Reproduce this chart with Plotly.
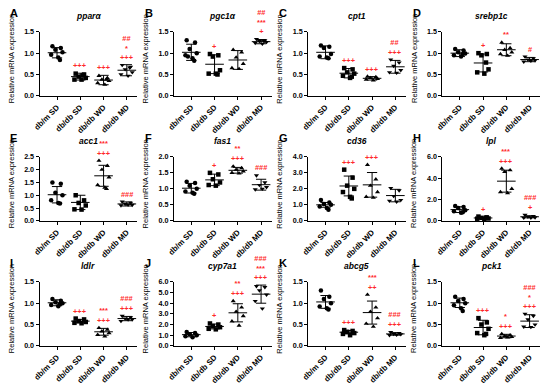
import plotly.graph_objects as go

W, H = 546, 387
FONT = "Arial, Liberation Sans, sans-serif"
RED = "#ff2a2a"

groups = ["db/m SD", "db/db SD", "db/db WD", "db/db MD"]
genes = ["pparα", "pgc1α", "cpt1", "srebp1c", "acc1", "fas1",
         "cd36", "lpl", "ldlr", "cyp7a1", "abcg5", "pck1"]
letters = ["A", "B", "C", "D", "E", "F", "G", "H", "I", "J", "K", "L"]
ymax = [1.5, 1.5, 1.5, 1.5, 2.5, 2.0, 4.0, 6.0, 1.5, 6.0, 1.5, 1.5]
ydtick = [0.5, 0.5, 0.5, 0.5, 0.5, 0.5, 1.0, 2.0, 0.5, 1.0, 0.5, 0.5]

# ---- data ----
ppara_pts = [[1.16, 1.12, 1.08, 1.02, 0.96, 0.90, 0.84],
             [0.52, 0.50, 0.45, 0.42, 0.38, 0.38, 0.48],
             [0.47, 0.42, 0.38, 0.35, 0.30, 0.26, 0.38],
             [0.72, 0.68, 0.62, 0.55, 0.50, 0.47, 0.66]]
ppara_mean = [1.01, 0.45, 0.37, 0.60]
ppara_sd = [0.12, 0.08, 0.11, 0.13]
ppara_sig = [[], ["+++"], ["+++"], ["+++", "*", "##"]]

pgc1a_pts = [[1.30, 1.25, 1.10, 1.00, 0.95, 0.88, 0.82, 0.92],
             [0.98, 0.95, 0.92, 0.60, 0.52, 0.52, 0.50],
             [1.08, 1.02, 0.90, 0.75, 0.65, 0.63],
             [1.33, 1.30, 1.28, 1.26, 1.24, 1.22, 1.28]]
pgc1a_mean = [1.02, 0.74, 0.84, 1.27]
pgc1a_sd = [0.19, 0.22, 0.22, 0.05]
pgc1a_sig = [[], ["+"], [], ["+", "***", "##"]]

cpt1_pts = [[1.18, 1.15, 1.12, 0.98, 0.92, 0.90, 0.88],
            [0.65, 0.62, 0.55, 0.52, 0.47, 0.42, 0.45],
            [0.45, 0.44, 0.42, 0.40, 0.38, 0.36],
            [0.85, 0.78, 0.70, 0.60, 0.55, 0.54]]
cpt1_mean = [1.02, 0.53, 0.41, 0.68]
cpt1_sd = [0.15, 0.11, 0.04, 0.15]
cpt1_sig = [[], ["+++"], ["+++"], ["+++", "##"]]

srebp1c_pts = [[1.10, 1.06, 1.02, 0.99, 0.95, 0.92, 0.98],
               [1.00, 0.98, 0.95, 0.62, 0.55, 0.52, 0.78],
               [1.25, 1.12, 1.08, 1.02, 0.98, 0.94],
               [0.92, 0.88, 0.85, 0.83, 0.80, 0.82]]
srebp1c_mean = [1.00, 0.77, 1.08, 0.85]
srebp1c_sd = [0.08, 0.21, 0.14, 0.05]
srebp1c_sig = [[], ["+"], ["**"], ["#"]]

acc1_pts = [[1.50, 1.45, 1.10, 1.00, 0.80, 0.70, 0.68],
            [1.00, 0.80, 0.70, 0.60, 0.45, 0.44],
            [2.35, 2.15, 2.00, 1.70, 1.40, 1.30, 1.25],
            [0.75, 0.70, 0.66, 0.62, 0.60, 0.63]]
acc1_mean = [1.02, 0.72, 1.76, 0.66]
acc1_sd = [0.32, 0.28, 0.41, 0.08]
acc1_sig = [[], [], ["+++", "***"], ["###"]]

fas1_pts = [[1.22, 1.18, 1.10, 1.00, 0.92, 0.88, 0.85],
            [1.50, 1.45, 1.30, 1.20, 1.12, 1.10],
            [1.70, 1.65, 1.60, 1.55, 1.50, 1.48],
            [1.42, 1.20, 1.12, 1.05, 0.98, 1.00]]
fas1_mean = [1.02, 1.28, 1.58, 1.13]
fas1_sd = [0.15, 0.18, 0.09, 0.17]
fas1_sig = [[], ["+"], ["+++", "**"], ["###"]]

cd36_pts = [[1.30, 1.15, 1.05, 1.00, 0.90, 0.80, 0.70],
            [3.20, 2.70, 2.20, 2.00, 1.80, 1.50, 1.40],
            [3.50, 2.60, 2.20, 1.80, 1.50, 1.45],
            [2.05, 1.90, 1.55, 1.30, 1.25, 1.20]]
cd36_mean = [1.00, 2.18, 2.25, 1.58]
cd36_sd = [0.15, 0.62, 0.77, 0.39]
cd36_sig = [[], ["+++"], ["+++"], []]

lpl_pts = [[1.40, 1.30, 1.20, 1.00, 0.90, 0.75, 0.80],
           [0.40, 0.32, 0.28, 0.22, 0.20, 0.18, 0.30],
           [4.90, 4.75, 4.60, 3.00, 2.70, 2.60],
           [0.55, 0.45, 0.38, 0.32, 0.28, 0.30]]
lpl_mean = [1.05, 0.27, 3.72, 0.38]
lpl_sd = [0.27, 0.08, 1.03, 0.10]
lpl_sig = [[], ["+"], ["+++", "***"], ["+", "###"]]

ldlr_pts = [[1.10, 1.06, 1.02, 1.00, 0.96, 0.93, 0.98],
            [0.64, 0.62, 0.58, 0.56, 0.54, 0.53],
            [0.42, 0.38, 0.34, 0.30, 0.26, 0.22],
            [0.70, 0.67, 0.64, 0.62, 0.58, 0.62]]
ldlr_mean = [1.01, 0.58, 0.33, 0.64]
ldlr_sd = [0.07, 0.04, 0.08, 0.05]
ldlr_sig = [[], ["+++"], ["+++", "***"], ["+++", "###"]]

cyp7a1_pts = [[1.30, 1.20, 1.10, 1.00, 0.90, 0.80],
              [2.10, 2.00, 1.85, 1.75, 1.60, 1.55],
              [4.20, 3.60, 3.20, 2.80, 2.30, 1.90],
              [5.60, 5.50, 5.20, 4.80, 4.20, 3.50]]
cyp7a1_mean = [1.05, 1.82, 3.10, 4.85]
cyp7a1_sd = [0.20, 0.23, 0.85, 0.85]
cyp7a1_sig = [[], ["+"], ["+++", "**"], ["+++", "***", "###"]]

abcg5_pts = [[1.30, 1.15, 1.10, 1.00, 0.92, 0.88, 0.85],
             [0.37, 0.35, 0.33, 0.30, 0.28, 0.25],
             [1.20, 0.90, 0.80, 0.65, 0.52, 0.45],
             [0.32, 0.30, 0.28, 0.27, 0.25, 0.26]]
abcg5_mean = [1.03, 0.32, 0.78, 0.28]
abcg5_sd = [0.15, 0.04, 0.27, 0.03]
abcg5_sig = [[], ["+++"], ["++", "***"], ["+++", "###"]]

pck1_pts = [[1.15, 1.10, 1.05, 1.00, 0.95, 0.88, 0.82],
            [0.65, 0.55, 0.50, 0.40, 0.30, 0.25, 0.28],
            [0.28, 0.25, 0.23, 0.21, 0.19, 0.20],
            [0.75, 0.70, 0.62, 0.50, 0.45, 0.44]]
pck1_mean = [1.01, 0.43, 0.23, 0.58]
pck1_sd = [0.11, 0.17, 0.04, 0.15]
pck1_sig = [[], ["+++"], ["+++", "*"], ["+++", "*", "###"]]

all_pts = [ppara_pts, pgc1a_pts, cpt1_pts, srebp1c_pts, acc1_pts, fas1_pts,
           cd36_pts, lpl_pts, ldlr_pts, cyp7a1_pts, abcg5_pts, pck1_pts]
all_mean = [ppara_mean, pgc1a_mean, cpt1_mean, srebp1c_mean, acc1_mean, fas1_mean,
            cd36_mean, lpl_mean, ldlr_mean, cyp7a1_mean, abcg5_mean, pck1_mean]
all_sd = [ppara_sd, pgc1a_sd, cpt1_sd, srebp1c_sd, acc1_sd, fas1_sd,
          cd36_sd, lpl_sd, ldlr_sd, cyp7a1_sd, abcg5_sd, pck1_sd]
all_sig = [ppara_sig, pgc1a_sig, cpt1_sig, srebp1c_sig, acc1_sig, fas1_sig,
           cd36_sig, lpl_sig, ldlr_sig, cyp7a1_sig, abcg5_sig, pck1_sig]

# ---- styling ----
symbols = ["circle", "square", "triangle-up", "triangle-down"]
jitter = [-0.22, 0.18, -0.08, 0.26, -0.28, 0.06, 0.14, -0.16]
MEAN_HW = 0.40
CAP_HW = 0.22

COL_OFF = [0, 136, 272, 408]
ROW_OFF = [0, 128, 256]

fig = go.Figure()
annotations = []
layout_axes = {}

for i, gene in enumerate(genes):
    r, c = divmod(i, 4)
    n = i + 1
    xa = "x" if n == 1 else f"x{n}"
    ya = "y" if n == 1 else f"y{n}"
    xdom = [(COL_OFF[c] + 33) / W, (COL_OFF[c] + 132) / W]
    ydom = [1 - (ROW_OFF[r] + 94) / H, 1 - (ROW_OFF[r] + 28.5) / H]

    pts, mean, sd, sig = all_pts[i], all_mean[i], all_sd[i], all_sig[i]

    for g in range(4):
        ys = pts[g]
        xs = [g + jitter[k % len(jitter)] * 0.9 for k in range(len(ys))]
        fig.add_trace(go.Scatter(
            x=xs, y=ys, mode="markers", xaxis=xa, yaxis=ya,
            marker=dict(symbol=symbols[g], size=4.5, color="black",
                        line=dict(width=0)),
            cliponaxis=False, showlegend=False, hoverinfo="skip"))

    lx, ly = [], []
    for g in range(4):
        m, s = mean[g], sd[g]
        lx += [g - MEAN_HW, g + MEAN_HW, None,
               g, g, None,
               g - CAP_HW, g + CAP_HW, None,
               g - CAP_HW, g + CAP_HW, None]
        ly += [m, m, None,
               m - s, m + s, None,
               m + s, m + s, None,
               m - s, m - s, None]
    fig.add_trace(go.Scatter(
        x=lx, y=ly, mode="lines", xaxis=xa, yaxis=ya,
        line=dict(color="black", width=1), cliponaxis=False,
        showlegend=False, hoverinfo="skip"))

    # significance labels: one stacked text per group (top line first)
    for g in range(4):
        if not sig[g]:
            continue
        top = max(max(pts[g]), mean[g] + sd[g])
        text = "<br>".join(reversed(sig[g]))
        annotations.append(dict(
            x=g, y=top, xref=xa, yref=ya, text=text, showarrow=False,
            yshift=2, yanchor="bottom", xanchor="center", borderpad=0,
            font=dict(family=FONT, size=7.4, color=RED, weight="bold")))

    xtick_font = dict(family=FONT, size=7.8, color="black", weight="bold")
    ytick_font = dict(family=FONT, size=7.2, color="black", weight="bold")
    layout_axes["xaxis" if n == 1 else f"xaxis{n}"] = dict(
        domain=xdom, anchor=ya, range=[-0.75, 3.45],
        tickvals=[0, 1, 2, 3], ticktext=groups, tickangle=-45,
        tickfont=xtick_font, showline=True, linecolor="black", linewidth=1,
        ticks="outside", ticklen=3, tickwidth=1, tickcolor="black",
        showgrid=False, zeroline=False, fixedrange=True)
    layout_axes["yaxis" if n == 1 else f"yaxis{n}"] = dict(
        domain=ydom, anchor=xa, range=[0, ymax[i]], dtick=ydtick[i],
        tick0=0, tickformat=".1f", tickfont=ytick_font,
        showline=True, linecolor="black", linewidth=1,
        ticks="outside", ticklen=3, tickwidth=1, tickcolor="black",
        showgrid=False, zeroline=False, fixedrange=True)

    # panel letter
    annotations.append(dict(
        x=(COL_OFF[c] + 1.5) / W, y=1 - (ROW_OFF[r] + 1) / H,
        xref="paper", yref="paper", text=f"<b>{letters[i]}</b>",
        showarrow=False, xanchor="left", yanchor="top",
        font=dict(family=FONT, size=11, color="black")))
    # gene title
    annotations.append(dict(
        x=(COL_OFF[c] + 82.5) / W, y=1 - (ROW_OFF[r] + 12) / H,
        xref="paper", yref="paper", text=f"<b><i>{gene}</i></b>",
        showarrow=False, xanchor="center", yanchor="middle",
        font=dict(family=FONT, size=8.5, color="black")))
    # y axis title
    annotations.append(dict(
        x=(COL_OFF[c] + 4.5) / W, y=1 - (ROW_OFF[r] + 56) / H,
        xref="paper", yref="paper", text="Relative mRNA expression",
        showarrow=False, xanchor="center", yanchor="middle", textangle=-90,
        font=dict(family=FONT, size=7.5, color="black")))

fig.update_layout(
    width=W, height=H, margin=dict(l=0, r=0, t=0, b=0),
    paper_bgcolor="white", plot_bgcolor="white",
    annotations=annotations, showlegend=False, **layout_axes)

fig.write_html("out.html", config={"displayModeBar": False})
